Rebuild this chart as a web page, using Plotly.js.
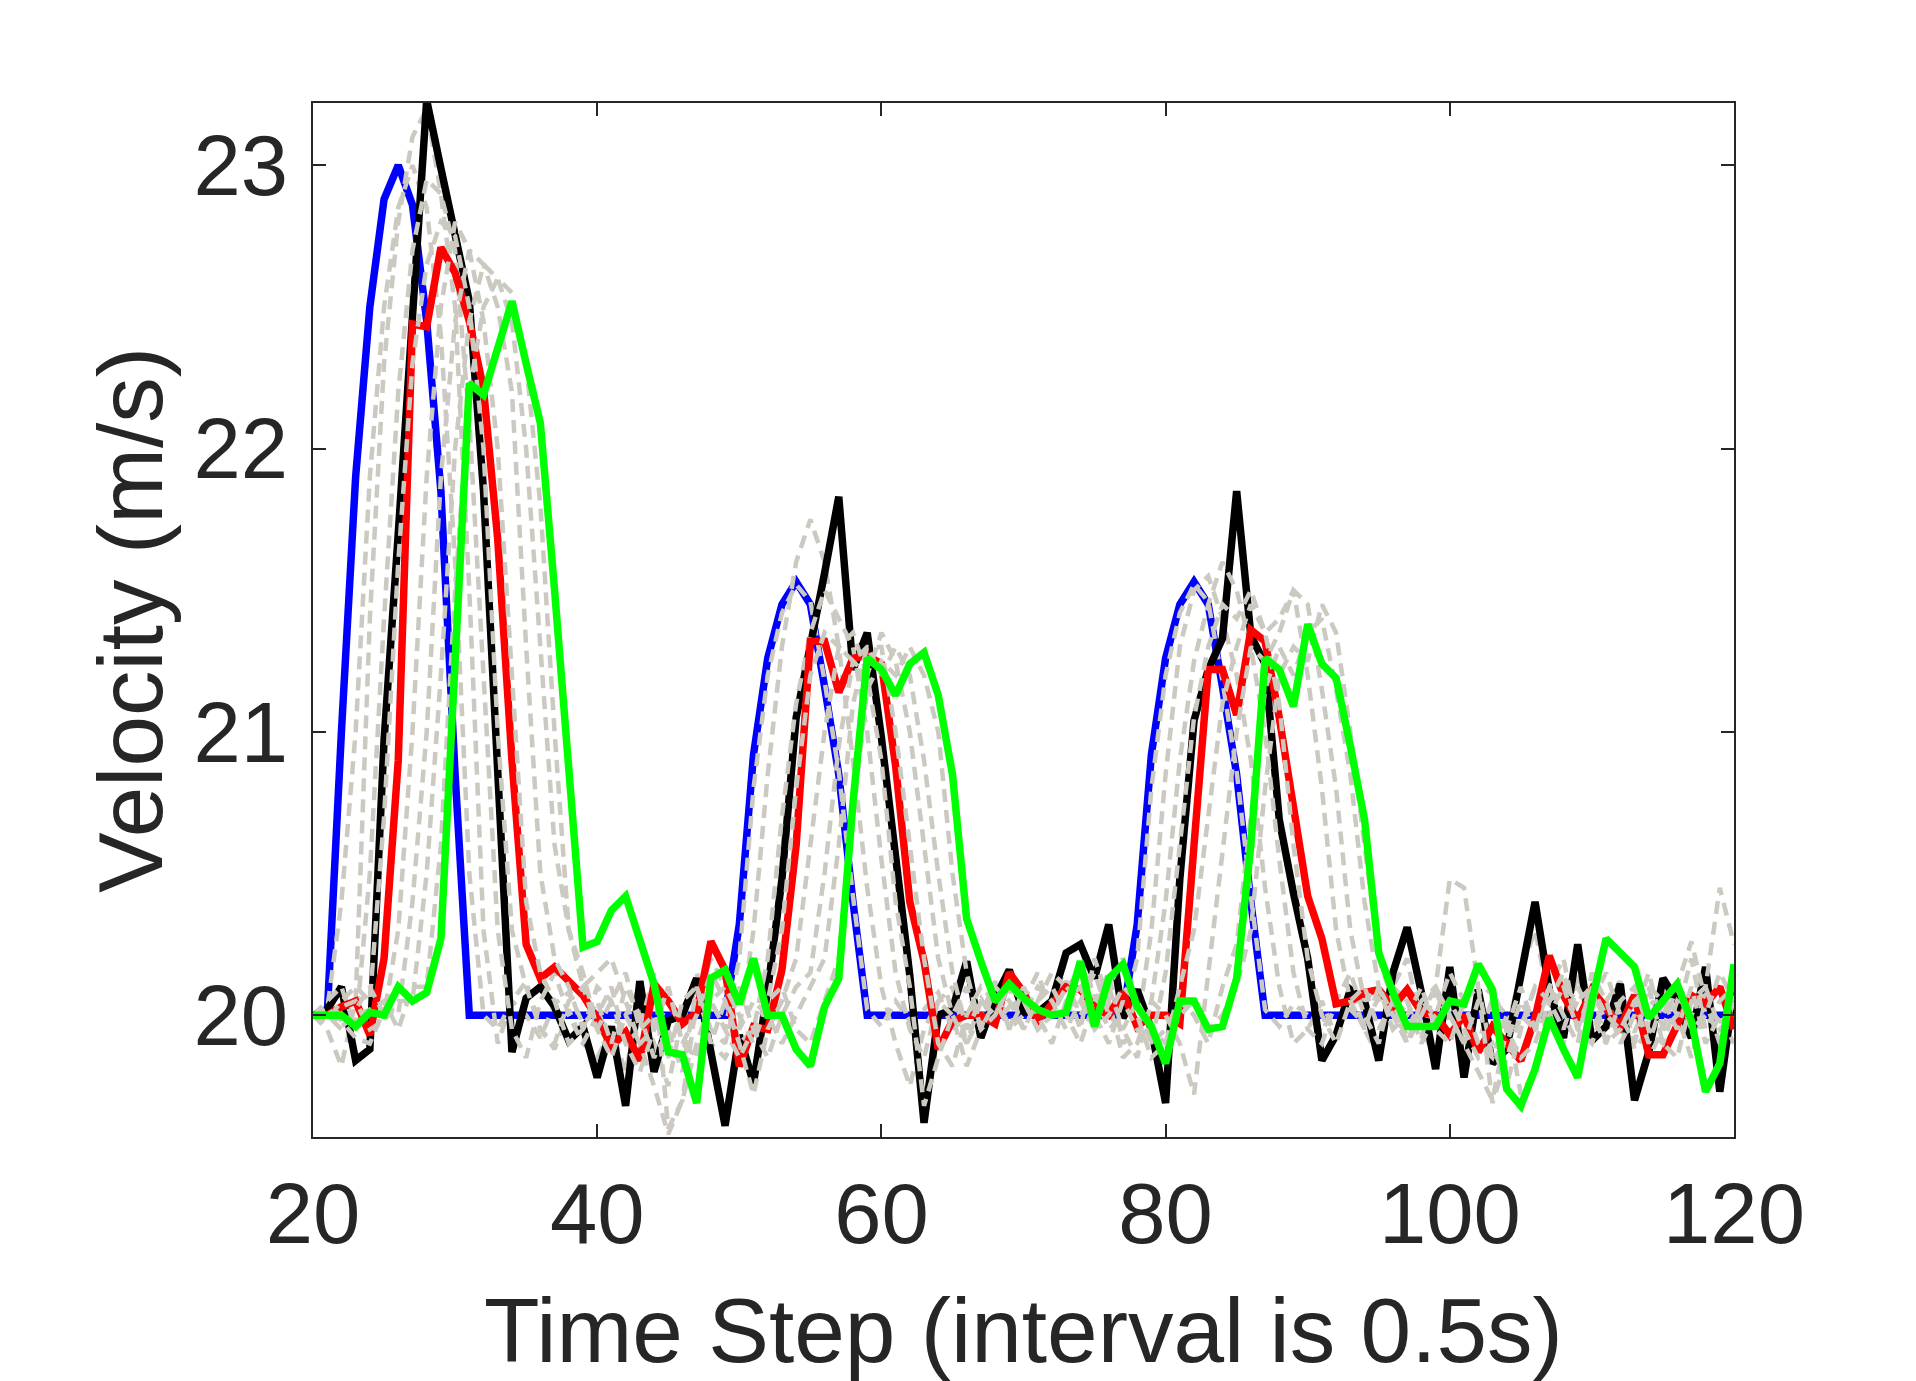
<!DOCTYPE html>
<html>
<head>
<meta charset="utf-8">
<script src="https://cdn.plot.ly/plotly-3.0.1.min.js"></script>
<style>html,body{margin:0;padding:0;background:#fff;}#chart{width:1916px;height:1381px;}</style>
</head>
<body>
<div id="chart"></div>
<script>
// time steps 20..120
const stepStart = 20, stepEnd = 120;
const steps = [];
for (let s = stepStart; s <= stepEnd; s++) steps.push(s);

const xTicks = [20, 40, 60, 80, 100, 120];
const yTicks = [20, 21, 22, 23];

// leader (blue)
const leader = [
  20, 20, 21.0, 21.9, 22.5, 22.88, 23.0, 22.86, 22.45, 21.85,
  20.85, 20, 20, 20, 20, 20, 20, 20, 20, 20,
  20, 20, 20, 20, 20, 20, 20, 20, 20, 20,
  20.32, 20.92, 21.26, 21.45, 21.53, 21.45, 21.16, 20.85, 20.4, 20,
  20, 20, 20, 20, 20, 20, 20, 20, 20, 20,
  20, 20, 20, 20, 20, 20, 20, 20, 20.32, 20.92,
  21.26, 21.45, 21.53, 21.45, 21.16, 20.85, 20.4, 20, 20, 20,
  20, 20, 20, 20, 20, 20, 20, 20, 20, 20,
  20, 20, 20, 20, 20, 20, 20, 20, 20, 20,
  20, 20, 20, 20, 20, 20, 20, 20, 20, 20,
  20
];

// black
const blackSeries = [
  20, 20.02, 20.1, 19.84, 19.88, 20.97, 21.7, 22.45, 23.23, 22.99,
  22.74, 22.52, 21.85, 20.82, 19.87, 20.06, 20.1, 20.03, 19.91, 19.96,
  19.78, 19.96, 19.68, 20.12, 19.8, 19.98, 20.0, 20.13, 19.87, 19.61,
  19.93, 19.76, 20.09, 20.48, 21.05, 21.29, 21.56, 21.83, 21.22, 21.35,
  20.98, 20.56, 20.14, 19.62, 20.0, 20.02, 20.19, 19.92, 20.06, 20.16,
  20.01, 20.01, 20.05, 20.22, 20.25, 20.13, 20.32, 19.99, 20.09, 19.95,
  19.69, 20.48, 21.04, 21.22, 21.33, 21.85, 21.34, 21.24, 20.69, 20.43,
  20.2, 19.84, 19.93, 20.09, 20.05, 19.84, 20.15, 20.31, 20.08, 19.81,
  20.17, 19.78, 20.09, 19.83, 19.88, 20.14, 20.40, 20.09, 19.92, 20.25,
  19.91, 19.96, 20.11, 19.7, 19.87, 20.13, 20.05, 19.92, 20.17, 19.73,
  20.09
];

// red
const redSeries = [
  20, 20.0, 20.03, 20.05, 19.93, 20.2, 20.9, 22.44, 22.43, 22.71,
  22.62, 22.45, 22.21, 21.68, 20.9, 20.25, 20.13, 20.17, 20.12, 20.07,
  19.99, 19.89, 19.94, 19.84, 20.11, 20.05, 19.97, 20.01, 20.26, 20.16,
  19.82, 19.96, 19.95, 20.16, 20.6, 21.32, 21.32, 21.14, 21.26, 21.27,
  21.24, 20.88, 20.4, 20.19, 19.88, 19.98, 20.0, 20.0, 19.97, 20.15,
  20.08, 19.98, 20.04, 20.1, 20.09, 20.03, 20.0, 20.08, 19.96, 20.0,
  20.0, 19.97, 20.6, 21.22, 21.22, 21.06, 21.36, 21.32, 21.05, 20.74,
  20.42, 20.27, 20.04, 20.05, 20.08, 20.09, 20.03, 20.09, 20.01, 20.0,
  19.93, 20.0, 19.87, 19.96, 19.9, 19.84, 19.99, 20.21, 20.07, 19.98,
  20.09, 20.02, 19.96, 20.07, 19.86, 19.86, 19.97, 20.07, 20.04, 20.1,
  19.95
];

// green
const greenSeries = [
  20, 20, 20, 19.96, 20.01, 20, 20.1, 20.05, 20.08, 20.27,
  21.2, 22.23, 22.19, 22.36, 22.52, 22.3, 22.09, 21.5, 20.87, 20.24,
  20.26, 20.37, 20.42, 20.27, 20.11, 19.87, 19.86, 19.69, 20.13, 20.16,
  20.04, 20.2, 20.0, 20.0, 19.88, 19.82, 20.03, 20.13, 20.75, 21.26,
  21.22, 21.13, 21.24, 21.28, 21.13, 20.85, 20.34, 20.19, 20.05, 20.11,
  20.06, 20.02, 20.0, 20.01, 20.19, 19.96, 20.13, 20.18, 20.03, 19.96,
  19.83, 20.05, 20.05, 19.95, 19.96, 20.13, 20.6, 21.26, 21.22, 21.09,
  21.38, 21.24, 21.19, 20.95, 20.69, 20.22, 20.08, 19.96, 19.96, 19.96,
  20.05, 20.04, 20.18, 20.09, 19.74, 19.68, 19.81, 19.99, 19.88, 19.78,
  20.05, 20.27, 20.22, 20.17, 19.99, 20.05, 20.11, 19.98, 19.73, 19.83,
  20.18
];

// gray dashed followers
const gray1 = [
  20, 20.02, 20.4, 21.0, 21.9, 22.5, 22.85, 23.0, 22.85, 22.4,
  21.6, 20.5, 20.0, 19.95, 20.05, 20.0, 19.92, 20.04, 20.08, 19.97,
  20.02, 19.9, 20.0, 20.1, 19.95, 20.04, 19.98, 20.1, 20.05, 19.95,
  20.2, 20.8, 21.2, 21.42, 21.52, 21.46, 21.18, 20.86, 20.42, 20.02,
  19.96, 20.05, 19.98, 20.02, 20.08, 19.95, 20.0, 20.06, 19.97, 20.03,
  20.08, 19.98, 20.05, 20.12, 20.0, 20.07, 19.95, 20.0, 20.2, 20.8,
  21.2, 21.42, 21.52, 21.46, 21.18, 20.86, 20.42, 20.02, 19.96, 20.04,
  20.0, 19.94, 20.05, 20.02, 19.97, 20.06, 20.0, 19.93, 20.04, 20.08,
  19.98, 20.03, 19.9, 20.06, 20.0, 19.96, 20.1, 20.02, 19.95, 20.05,
  20.08, 19.98, 20.02, 19.94, 20.06, 20.0, 20.1, 19.96, 20.03, 19.98,
  20.05
];
const gray2 = [
  20, 19.95, 19.82, 20.05, 21.4, 22.3, 22.8, 23.1, 23.2, 22.9,
  22.5, 21.5, 20.3, 19.9, 20.05, 20.12, 19.95, 19.88, 20.02, 19.9,
  19.85, 19.95, 19.8, 20.05, 19.9, 19.75, 20.0, 20.15, 19.9, 19.85,
  19.95, 20.3, 20.85, 21.3, 21.6, 21.75, 21.6, 21.3, 20.9, 20.45,
  20.1, 19.9, 19.75, 19.95, 20.05, 20.1, 19.9, 20.0, 20.12, 19.95,
  20.05, 20.15, 20.0, 20.2, 20.25, 20.05, 20.15, 19.9, 19.95, 20.3,
  20.85, 21.3, 21.5, 21.55, 21.4, 21.2, 20.9, 20.45, 20.1, 19.9,
  19.95, 20.05, 19.92, 20.1, 19.95, 19.85, 20.1, 20.2, 19.95, 19.85,
  20.1, 19.9, 20.05, 19.85, 19.95, 20.15, 20.3, 20.05, 19.9, 20.15,
  19.95, 20.05, 20.12, 19.88, 19.95, 20.1, 20.0, 19.85, 20.05, 19.9,
  20.0
];
const gray3 = [
  20, 20.05, 20.1, 19.95, 20.5, 21.4, 22.2, 22.7, 22.95, 22.9,
  22.7, 22.1, 21.2, 20.3, 19.95, 19.85, 20.05, 20.15, 20.0, 19.9,
  20.0, 20.1, 19.9, 19.95, 20.15, 19.6, 19.7, 20.05, 20.2, 20.1,
  19.9, 19.95, 20.2, 20.7, 21.1, 21.35, 21.5, 21.4, 21.3, 21.0,
  20.55, 20.15, 19.95, 19.85, 20.05, 20.0, 19.82, 19.95, 20.1, 20.05,
  19.95, 20.05, 20.15, 20.1, 19.95, 20.2, 20.05, 19.85, 19.9, 20.05,
  20.4, 20.9, 21.25, 21.45, 21.6, 21.5, 21.3, 21.0, 20.55, 20.15,
  19.95, 19.9, 20.05, 20.15, 20.0, 19.9, 20.1, 20.05, 19.92, 20.1,
  20.48, 20.45, 20.1, 19.85, 19.9, 20.05, 19.95, 20.1, 20.2, 19.95,
  19.9, 20.05, 19.95, 20.1, 19.85, 19.95, 20.1, 20.26, 20.05, 19.9,
  20.05
];
const gray4 = [
  20, 19.98, 20.05, 20.1, 20.05, 20.7, 21.6, 22.3, 22.65, 22.8,
  22.75, 22.5, 22.0, 21.0, 20.3, 20.1, 19.95, 19.9, 20.05, 20.1,
  19.95, 19.85, 20.0, 19.9, 19.75, 19.58, 19.7, 19.9, 20.05, 19.95,
  19.85, 19.95, 20.05, 20.3, 20.8, 21.2, 21.35, 21.3, 21.35, 21.2,
  20.9, 20.4, 20.1, 19.68, 19.85, 20.0, 20.1, 19.95, 20.0, 20.1,
  20.05, 19.95, 20.0, 20.1, 20.15, 20.0, 19.9, 20.05, 19.95, 19.9,
  20.15, 20.6, 21.05, 21.3, 21.45, 21.4, 21.5, 21.35, 21.1, 20.6,
  20.2, 20.0, 19.9, 20.05, 20.1, 19.95, 20.05, 19.9, 20.0, 20.1,
  20.0, 19.9, 19.8, 19.7, 19.95, 20.1, 19.95, 20.0, 20.1, 20.05,
  20.1, 19.9, 19.95, 20.05, 20.1, 19.9, 19.85, 20.05, 20.1, 20.45,
  20.25
];
const gray5 = [
  20, 20.0, 19.95, 20.02, 20.1, 20.0, 20.3, 21.0, 21.9, 22.5,
  22.8, 22.7, 22.45, 22.0, 21.2, 20.4, 20.15, 20.05, 19.9, 19.95,
  20.1, 20.05, 19.9, 19.8, 19.95, 20.1, 19.9, 20.0, 20.15, 20.05,
  19.9, 19.72, 19.95, 20.05, 20.2, 20.6, 21.0, 21.3, 21.25, 21.3,
  21.3, 21.0, 20.6, 20.2, 19.9, 19.82, 20.0, 20.1, 20.05, 19.95,
  20.1, 20.0, 19.9, 20.05, 20.1, 19.95, 20.1, 20.2, 20.0, 19.85,
  19.9, 20.1, 20.3, 20.7, 21.1, 21.3, 21.45, 21.35, 21.4, 21.5,
  21.2, 20.8, 20.3, 20.05, 19.95, 20.1, 20.0, 19.9, 20.05, 20.0,
  20.15, 20.05, 19.9, 19.85, 20.0, 19.72, 19.8, 20.05, 20.15, 19.95,
  20.05, 20.15, 20.0, 19.9, 20.1, 20.05, 19.95, 20.1, 19.9, 20.0,
  19.9
];
const gray6 = [
  20, 20.02, 19.98, 19.92, 19.9, 20.02, 20.0, 20.4, 21.0, 21.9,
  22.45, 22.7, 22.65, 22.5, 22.2, 21.3, 20.5, 20.2, 20.1, 19.95,
  20.05, 19.9, 20.1, 20.0, 19.85, 19.95, 19.8, 20.1, 19.95, 19.9,
  20.1, 19.95, 19.85, 20.0, 20.1, 20.15, 20.5, 20.95, 21.25, 21.2,
  21.35, 21.25, 21.0, 20.6, 20.2, 20.0, 19.9, 20.05, 20.1, 19.95,
  20.0, 20.1, 20.05, 19.95, 20.05, 20.15, 20.0, 19.95, 19.85, 20.05,
  20.0, 19.9, 19.72, 20.15, 20.6, 21.0, 21.3, 21.25, 21.35, 21.5,
  21.45, 21.15, 20.8, 20.3, 20.05, 20.1, 19.95, 20.0, 20.1, 19.95,
  19.9, 20.05, 20.1, 19.69, 19.85, 20.0, 19.95, 20.1, 20.0, 19.9,
  20.15, 20.05, 19.9, 20.0, 20.15, 19.95, 20.0, 20.2, 19.95, 20.05,
  20.1
];
const gray7 = [
  20, 19.97, 20.03, 20.05, 19.95, 19.98, 20.05, 20.05, 20.5, 21.2,
  22.0, 22.45, 22.65, 22.6, 22.45, 22.0, 21.3, 20.6, 20.3, 20.15,
  19.95, 20.05, 20.15, 19.95, 20.0, 19.85, 20.05, 20.1, 19.9, 20.05,
  19.95, 20.05, 20.0, 19.9, 20.0, 20.1, 20.2, 20.6, 21.1, 21.3,
  21.2, 21.3, 21.2, 20.9, 20.5, 20.15, 19.95, 20.05, 20.0, 20.1,
  19.95, 20.05, 20.1, 20.0, 19.9, 20.05, 20.1, 19.95, 20.05, 19.9,
  19.95, 20.05, 20.0, 19.9, 20.1, 20.25, 20.7, 21.15, 21.3, 21.2,
  21.35, 21.4, 21.15, 20.85, 20.4, 20.1, 19.95, 20.05, 19.9, 20.0,
  20.05, 19.95, 19.85, 19.9, 19.75, 19.95, 20.1, 20.05, 19.95, 20.1,
  20.0, 19.9, 20.05, 20.1, 19.95, 19.9, 20.05, 20.0, 20.1, 19.95,
  20.0
];
const gray8 = [
  20, 20.03, 19.96, 20.0, 20.02, 20.05, 19.95, 20.1, 20.1, 20.6,
  21.5, 22.2, 22.5, 22.6, 22.55, 22.3, 21.8, 21.0, 20.3, 20.1,
  20.15, 20.2, 20.05, 19.9, 19.95, 20.1, 19.9, 19.85, 20.05, 20.1,
  20.0, 19.9, 20.05, 20.1, 19.95, 19.9, 20.05, 20.2, 20.7, 21.15,
  21.25, 21.2, 21.3, 21.2, 21.0, 20.5, 20.15, 19.95, 20.05, 20.1,
  20.05, 19.95, 20.0, 20.1, 20.05, 19.95, 20.0, 20.1, 20.05, 19.95,
  19.9, 20.0, 20.05, 19.95, 20.0, 20.1, 20.3, 20.8, 21.2, 21.3,
  21.25, 21.45, 21.35, 21.0, 20.6, 20.2, 20.05, 19.95, 20.05, 20.1,
  20.0, 19.9, 20.05, 20.1, 19.95, 19.85, 19.9, 20.05, 20.1, 19.95,
  20.1, 20.0, 19.95, 20.05, 19.9, 20.05, 20.1, 19.95, 20.0, 20.15,
  20.05
];

const GRAY = '#cbc9c0';
const TXT = '#262626';
const FONT = 'Liberation Sans, Arial, Helvetica, sans-serif';

function solid(y, color) {
  return {x: steps, y: y, type: 'scatter', mode: 'lines',
    line: {color: color, width: 7.5}, hoverinfo: 'skip', showlegend: false};
}
function dashed(y) {
  return {x: steps, y: y, type: 'scatter', mode: 'lines',
    line: {color: GRAY, width: 4.5, dash: '13px,8px'}, hoverinfo: 'skip', showlegend: false};
}

const traces = [
  solid(leader, '#0000ff'),
  dashed(gray1), dashed(gray2),
  solid(blackSeries, '#000000'),
  dashed(gray3),
  solid(redSeries, '#ff0000'),
  dashed(gray4), dashed(gray5), dashed(gray6), dashed(gray7), dashed(gray8),
  solid(greenSeries, '#00ff00')
];

const layout = {
  width: 1916, height: 1381,
  margin: {l: 313, r: 182, t: 103, b: 244, pad: 0},
  paper_bgcolor: '#ffffff', plot_bgcolor: '#ffffff',
  showlegend: false,
  font: {family: FONT, color: TXT},
  xaxis: {
    range: [20, 120], tickvals: xTicks, ticktext: xTicks.map(String),
    showgrid: false, zeroline: false,
    showline: true, linecolor: TXT, linewidth: 2, mirror: 'ticks',
    ticks: 'inside', ticklen: 13, tickwidth: 2, tickcolor: TXT,
    tickfont: {family: FONT, size: 85, color: TXT},
    ticklabelstandoff: 2,
    title: {text: 'Time Step (interval is 0.5s)', font: {family: FONT, size: 91, color: TXT}, standoff: 48},
    automargin: false
  },
  yaxis: {
    range: [19.57, 23.22], tickvals: yTicks, ticktext: yTicks.map(String),
    showgrid: false, zeroline: false,
    showline: true, linecolor: TXT, linewidth: 2, mirror: 'ticks',
    ticks: 'inside', ticklen: 13, tickwidth: 2, tickcolor: TXT,
    tickfont: {family: FONT, size: 85, color: TXT},
    ticklabelstandoff: 6,
    title: {text: 'Velocity (m/s)', font: {family: FONT, size: 91, color: TXT}, standoff: 1},
    automargin: false
  }
};

Plotly.newPlot('chart', traces, layout, {staticPlot: true, displayModeBar: false});
</script>
</body>
</html>
